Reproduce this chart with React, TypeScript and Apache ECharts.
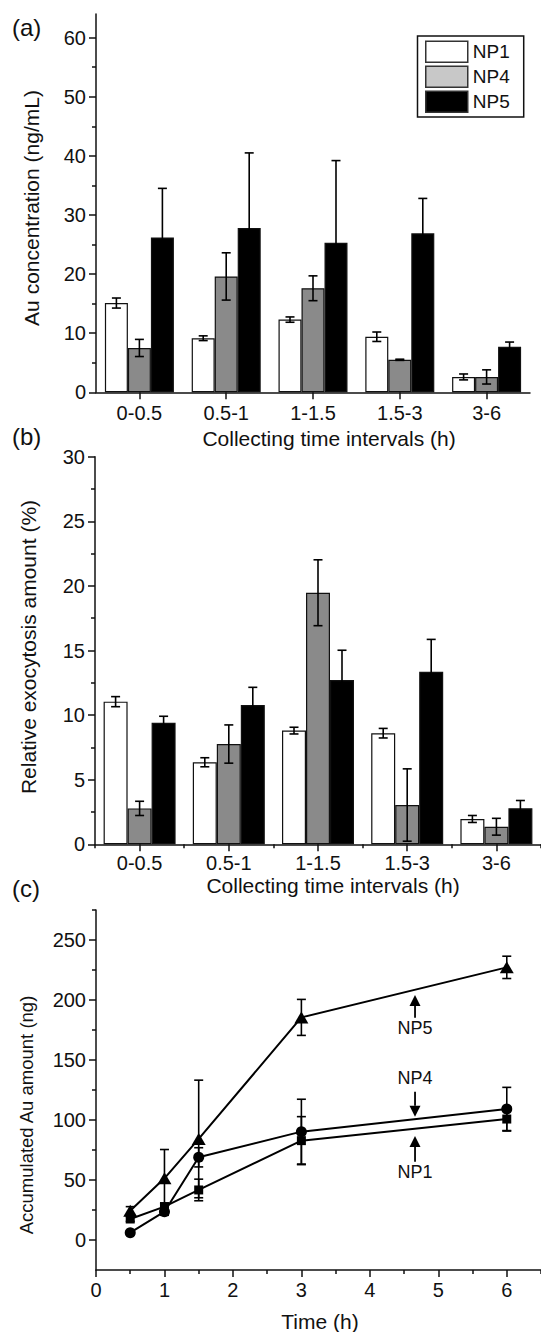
import React, { useEffect, useRef } from 'react';
import * as echarts from 'echarts';

// ---------- data ----------
const categories = ['0-0.5', '0.5-1', '1-1.5', '1.5-3', '3-6'];
const seriesNames = ['NP1', 'NP4', 'NP5'];

// (a) Au concentration (ng/mL)
const concNP1 = [15.1, 9.15, 12.3, 9.4, 2.6];
const concNP1Err = [0.85, 0.4, 0.45, 0.8, 0.5];
const concNP4 = [7.5, 19.6, 17.6, 5.5, 2.6];
const concNP4Err = [1.45, 4.0, 2.1, 0.1, 1.2];
const concNP5 = [26.2, 27.8, 25.3, 26.9, 7.7];
const concNP5Err = [8.3, 12.7, 13.9, 5.9, 0.8];

// (b) Relative exocytosis amount (%)
const exoNP1 = [11.04, 6.35, 8.8, 8.6, 1.96];
const exoNP1Err = [0.39, 0.35, 0.26, 0.37, 0.27];
const exoNP4 = [2.78, 7.76, 19.47, 3.04, 1.36];
const exoNP4Err = [0.55, 1.48, 2.55, 2.8, 0.65];
const exoNP5 = [9.41, 10.78, 12.72, 13.36, 2.79];
const exoNP5Err = [0.5, 1.37, 2.3, 2.5, 0.6];

// (c) Accumulated Au amount (ng)
const timePoints = [0.5, 1, 1.5, 3, 6];
const accNP1 = [17.5, 27.8, 41.7, 82.8, 100.8];
const accNP1Err = [2, 3, 9, 20, 10];
const accNP4 = [6.1, 23.6, 68.9, 90.3, 109.2];
const accNP4Err = [1.5, 3, 8, 27, 18];
const accNP5 = [24.4, 51.4, 84.2, 185.5, 227.2];
const accNP5Err = [3.4, 24, 49, 15, 9.3];

// (c) arrow annotations
const annotLabels = ['NP5', 'NP4', 'NP1'];
const annotTime = [4.66, 4.66, 4.66];
const annotTail = [185.3, 123.6, 65.2];
const annotTip = [204.2, 102.8, 86.7];
const annotTextY = [177, 135.4, 56.3];

// ticks
const yTicksA = [0, 10, 20, 30, 40, 50, 60];
const yMinorA = [5, 15, 25, 35, 45, 55];
const yTicksB = [0, 5, 10, 15, 20, 25, 30];
const yMinorB = [2.5, 7.5, 12.5, 17.5, 22.5, 27.5];
const yTicksC = [0, 50, 100, 150, 200, 250];
const yMinorC = [25, 75, 125, 175, 225, 275];
const xTicksC = [0, 1, 2, 3, 4, 5, 6];
const xMinorC = [0.5, 1.5, 2.5, 3.5, 4.5, 5.5, 6.5];

// ---------- styles ----------
const FONT = 'Liberation Sans, Arial, Helvetica, sans-serif';
const INK = '#111';
const barColors = ['#ffffff', '#8a8a8a', '#000000'];
const legendColors = ['#ffffff', '#c8c8c8', '#000000'];

const axisLineStyle = { color: INK, width: 1.5 };

function mainValueAxis(gridIndex: number, position: string, min: number, max: number, ticks: number[]) {
  return {
    type: 'value', gridIndex, position, min, max,
    axisLine: { show: true, onZero: false, lineStyle: axisLineStyle },
    axisTick: { show: true, inside: false, length: 7, lineStyle: axisLineStyle, customValues: ticks },
    axisLabel: { show: true, customValues: ticks, color: INK, fontSize: 20, fontFamily: FONT, margin: 10 },
    splitLine: { show: false },
  };
}
function minorValueAxis(gridIndex: number, position: string, min: number, max: number, ticks: number[]) {
  return {
    type: 'value', gridIndex, position, offset: 0, min, max,
    axisLine: { show: false, onZero: false },
    axisTick: { show: true, inside: false, length: 4, lineStyle: axisLineStyle, customValues: ticks },
    axisLabel: { show: false },
    splitLine: { show: false },
  };
}

function errSeries(xAxisIndex: number, yAxisIndex: number, xs: any[], vals: number[], errs: number[], offset: number, cap = 4.5) {
  return {
    type: 'custom', xAxisIndex, yAxisIndex, z: 10, silent: true,
    data: vals.map((v, i) => [xs[i], v, errs[i]]),
    renderItem: (params: any, api: any) => {
      const xv = api.value(0);
      const v = api.value(1);
      const e = api.value(2);
      const top = api.coord([xv, v + e]);
      const bot = api.coord([xv, v - e]);
      const x = top[0] + offset;
      const st = { stroke: '#000', lineWidth: 1.6 };
      return {
        type: 'group',
        children: [
          { type: 'line', shape: { x1: x, y1: top[1], x2: x, y2: bot[1] }, style: st },
          { type: 'line', shape: { x1: x - cap, y1: top[1], x2: x + cap, y2: top[1] }, style: st },
          { type: 'line', shape: { x1: x - cap, y1: bot[1], x2: x + cap, y2: bot[1] }, style: st },
        ],
      };
    },
  };
}

function barSeries(name: string, idx: number, xAxisIndex: number, yAxisIndex: number, data: number[], barWidth: number) {
  return {
    type: 'bar', name, xAxisIndex, yAxisIndex, data, barWidth, barGap: '0%',
    itemStyle: { color: barColors[idx], borderColor: '#111', borderWidth: 1.2 },
  };
}

export default function App() {
  const ref = useRef<HTMLDivElement>(null);
  useEffect(() => {
    document.body.style.margin = '0';
    if (!ref.current) return;
    const chart = echarts.init(ref.current, undefined, { renderer: 'svg' });
    const BW_A = 23;
    const BW_B = 24;

    const catAxisMain = (gridIndex: number, margin: number) => ({
      type: 'category', gridIndex, position: 'bottom', data: categories,
      axisLine: { show: true, onZero: false, lineStyle: axisLineStyle },
      axisTick: { show: true, alignWithLabel: true, length: 7, lineStyle: axisLineStyle },
      axisLabel: { color: INK, fontSize: 20, fontFamily: FONT, margin, interval: 0 },
      splitLine: { show: false },
    });

    const option: any = {
      animation: false,
      backgroundColor: '#fff',
      textStyle: { fontFamily: FONT, color: INK },
      grid: [
        { left: 96, top: 14, width: 434, height: 378.3 },
        { left: 95, top: 456.7, width: 446.5, height: 387.6 },
        { left: 96, top: 910, width: 450.1, height: 360 },
      ],
      legend: {
        orient: 'vertical', left: 417.5, top: 36,
        itemWidth: 42, itemHeight: 21, itemGap: 2.5,
        padding: [4.5, 14, 4, 7.5],
        borderColor: '#111', borderWidth: 1.5,
        textStyle: { fontSize: 19, color: INK, fontFamily: FONT },
        selectedMode: false,
        data: seriesNames.map((n, i) => ({
          name: n, icon: 'rect',
          itemStyle: { color: legendColors[i], borderColor: '#333', borderWidth: 1.5 },
        })),
      },
      xAxis: [
        catAxisMain(0, 11),
        catAxisMain(1, 9),
        {
          type: 'category', gridIndex: 1, position: 'bottom', offset: 0, data: categories,
          axisLine: { show: false, onZero: false },
          axisTick: { show: true, alignWithLabel: false, length: 4, lineStyle: axisLineStyle },
          axisLabel: { show: false },
          splitLine: { show: false },
        },
        mainValueAxis(2, 'bottom', 0, 6.5, xTicksC),
        minorValueAxis(2, 'bottom', 0, 6.5, xMinorC),
      ],
      yAxis: [
        mainValueAxis(0, 'left', 0, 64, yTicksA),
        minorValueAxis(0, 'left', 0, 64, yMinorA),
        mainValueAxis(1, 'left', 0, 30, yTicksB),
        minorValueAxis(1, 'left', 0, 30, yMinorB),
        mainValueAxis(2, 'left', -25, 275, yTicksC),
        minorValueAxis(2, 'left', -25, 275, yMinorC),
      ],
      series: [
        // (a)
        barSeries('NP1', 0, 0, 0, concNP1, BW_A),
        barSeries('NP4', 1, 0, 0, concNP4, BW_A),
        barSeries('NP5', 2, 0, 0, concNP5, BW_A),
        errSeries(0, 0, categories.map((_, i) => i), concNP1, concNP1Err, -BW_A),
        errSeries(0, 0, categories.map((_, i) => i), concNP4, concNP4Err, 0),
        errSeries(0, 0, categories.map((_, i) => i), concNP5, concNP5Err, BW_A),
        // (b)
        barSeries('NP1', 0, 1, 2, exoNP1, BW_B),
        barSeries('NP4', 1, 1, 2, exoNP4, BW_B),
        barSeries('NP5', 2, 1, 2, exoNP5, BW_B),
        errSeries(1, 2, categories.map((_, i) => i), exoNP1, exoNP1Err, -BW_B),
        errSeries(1, 2, categories.map((_, i) => i), exoNP4, exoNP4Err, 0),
        errSeries(1, 2, categories.map((_, i) => i), exoNP5, exoNP5Err, BW_B),
        // (c)
        {
          type: 'line', name: 'NP1 acc', xAxisIndex: 3, yAxisIndex: 4,
          data: timePoints.map((t, i) => [t, accNP1[i]]),
          symbol: 'rect', symbolSize: 9,
          lineStyle: { color: '#000', width: 2 }, itemStyle: { color: '#000' }, z: 5,
        },
        {
          type: 'line', name: 'NP4 acc', xAxisIndex: 3, yAxisIndex: 4,
          data: timePoints.map((t, i) => [t, accNP4[i]]),
          symbol: 'circle', symbolSize: 11,
          lineStyle: { color: '#000', width: 2 }, itemStyle: { color: '#000' }, z: 5,
        },
        {
          type: 'line', name: 'NP5 acc', xAxisIndex: 3, yAxisIndex: 4,
          data: timePoints.map((t, i) => [t, accNP5[i]]),
          symbol: 'triangle', symbolSize: [14, 12],
          lineStyle: { color: '#000', width: 2 }, itemStyle: { color: '#000' }, z: 5,
        },
        errSeries(3, 4, timePoints, accNP1, accNP1Err, 0),
        errSeries(3, 4, timePoints, accNP4, accNP4Err, 0),
        errSeries(3, 4, timePoints, accNP5, accNP5Err, 0),
        {
          type: 'custom', xAxisIndex: 3, yAxisIndex: 4, z: 12, silent: true,
          data: annotLabels.map((_, i) => [annotTime[i], annotTail[i], annotTip[i], annotTextY[i]]),
          renderItem: (params: any, api: any) => {
            const tail = api.coord([api.value(0), api.value(1)]);
            const tip = api.coord([api.value(0), api.value(2)]);
            const txt = api.coord([api.value(0), api.value(3)]);
            const dir = tip[1] < tail[1] ? 1 : -1; // 1 = pointing up
            const headH = 11;
            const headW = 5.5;
            const baseY = tip[1] + dir * headH;
            return {
              type: 'group',
              children: [
                { type: 'line', shape: { x1: tail[0], y1: tail[1], x2: tail[0], y2: baseY }, style: { stroke: '#000', lineWidth: 1.8 } },
                { type: 'polygon', shape: { points: [[tip[0], tip[1]], [tip[0] - headW, baseY], [tip[0] + headW, baseY]] }, style: { fill: '#000' } },
                {
                  type: 'text', x: txt[0], y: txt[1],
                  style: { text: annotLabels[params.dataIndex], fontSize: 18, fontFamily: FONT, fill: INK, align: 'center', verticalAlign: 'middle' },
                },
              ],
            };
          },
        },
      ],
      graphic: [
        { type: 'text', left: 12, top: 15, style: { text: '(a)', fontSize: 24, fontFamily: FONT, fill: INK } },
        { type: 'text', left: 12, top: 424, style: { text: '(b)', fontSize: 24, fontFamily: FONT, fill: INK } },
        { type: 'text', left: 12, top: 876, style: { text: '(c)', fontSize: 24, fontFamily: FONT, fill: INK } },
        { type: 'text', x: 31, y: 208, rotation: Math.PI / 2, style: { text: 'Au concentration (ng/mL)', fontSize: 21, fontFamily: FONT, fill: INK, align: 'center', verticalAlign: 'middle' } },
        { type: 'text', x: 28.5, y: 647, rotation: Math.PI / 2, style: { text: 'Relative exocytosis amount (%)', fontSize: 21, fontFamily: FONT, fill: INK, align: 'center', verticalAlign: 'middle' } },
        { type: 'text', x: 26, y: 1115, rotation: Math.PI / 2, style: { text: 'Accumulated Au amount (ng)', fontSize: 18.5, fontFamily: FONT, fill: INK, align: 'center', verticalAlign: 'middle' } },
        { type: 'text', x: 329, y: 438, style: { text: 'Collecting time intervals (h)', fontSize: 21, fontFamily: FONT, fill: INK, align: 'center', verticalAlign: 'middle' } },
        { type: 'text', x: 333, y: 885, style: { text: 'Collecting time intervals (h)', fontSize: 21, fontFamily: FONT, fill: INK, align: 'center', verticalAlign: 'middle' } },
        { type: 'text', x: 320, y: 1321, style: { text: 'Time (h)', fontSize: 21, fontFamily: FONT, fill: INK, align: 'center', verticalAlign: 'middle' } },
      ],
    };
    chart.setOption(option);
    return () => chart.dispose();
  }, []);
  return <div ref={ref} style={{ width: 541, height: 1332 }} />;
}
